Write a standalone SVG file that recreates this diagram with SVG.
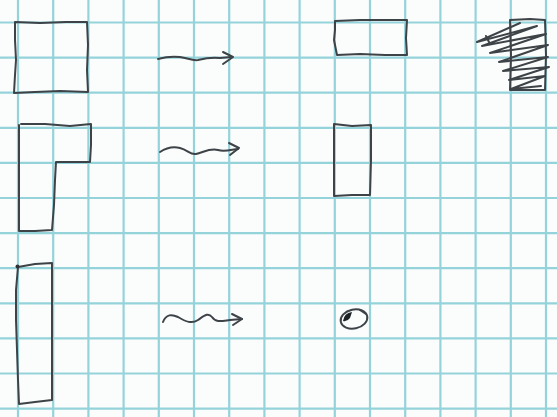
<svg xmlns="http://www.w3.org/2000/svg" width="557" height="417" viewBox="0 0 557 417">
<style>
.grid line{stroke:#95d3db;stroke-width:2.2}
.pen{fill:none;stroke:#3e4347;stroke-width:2;stroke-linecap:round;stroke-linejoin:round}
</style>
<rect width="557" height="417" fill="#fbfdfd"/>
<g class="grid">
<line x1="18" y1="0" x2="18" y2="417"/>
<line x1="53.2" y1="0" x2="53.2" y2="417"/>
<line x1="88.4" y1="0" x2="88.4" y2="417"/>
<line x1="123.6" y1="0" x2="123.6" y2="417"/>
<line x1="158.8" y1="0" x2="158.8" y2="417"/>
<line x1="194" y1="0" x2="194" y2="417"/>
<line x1="229.2" y1="0" x2="229.2" y2="417"/>
<line x1="264.4" y1="0" x2="264.4" y2="417"/>
<line x1="299.6" y1="0" x2="299.6" y2="417"/>
<line x1="334.8" y1="0" x2="334.8" y2="417"/>
<line x1="370" y1="0" x2="370" y2="417"/>
<line x1="405.2" y1="0" x2="405.2" y2="417"/>
<line x1="440.4" y1="0" x2="440.4" y2="417"/>
<line x1="475.6" y1="0" x2="475.6" y2="417"/>
<line x1="510.8" y1="0" x2="510.8" y2="417"/>
<line x1="546" y1="0" x2="546" y2="417"/>
<line x1="0" y1="22.5" x2="557" y2="22.5"/>
<line x1="0" y1="57.6" x2="557" y2="57.6"/>
<line x1="0" y1="92.7" x2="557" y2="92.7"/>
<line x1="0" y1="127.8" x2="557" y2="127.8"/>
<line x1="0" y1="162.9" x2="557" y2="162.9"/>
<line x1="0" y1="198" x2="557" y2="198"/>
<line x1="0" y1="233.1" x2="557" y2="233.1"/>
<line x1="0" y1="268.2" x2="557" y2="268.2"/>
<line x1="0" y1="303.3" x2="557" y2="303.3"/>
<line x1="0" y1="338.4" x2="557" y2="338.4"/>
<line x1="0" y1="373.5" x2="557" y2="373.5"/>
<line x1="0" y1="408.6" x2="557" y2="408.6"/>
</g>
<g id="square">
<path class="pen" d="M15,22 L40,23 L66,22 L87,22 L88,45 L87,70 L88,92 L60,91 L35,92 L14,93 L15,75 L16,60 L15,40 Z"/>
</g>
<g id="l-shape">
<path class="pen" d="M21,124 L45,124 L70,126 L91,124 L91,145 L90,162 L70,162 L56,162 L55,180 L54,205 L52,230 L35,231 L19,231 L19,205 L19,175 L19,150 L19,125"/>
</g>
<g id="tall-rect">
<path class="pen" d="M18,267 L35,264 L52,263 L52,300 L52,340 L52,375 L52,400 L35,402 L19,404 L18,380 L17,350 L16,320 L16,290 Z"/>
<circle cx="17.5" cy="266.5" r="2" fill="#2e3236"/>
</g>
<g id="wide-rect">
<path class="pen" d="M335,21 L360,20 L385,20 L407,20 L406,38 L407,55 L385,55 L360,54 L337,55 L336,50 L334,40 L335,30 Z"/>
</g>
<g id="hatched-square">
<path class="pen" d="M510,20 L530,19 L545,20 L546,55 L545,90 L528,90 L510,90 L511,55 Z"/>
<path class="pen" stroke-width="1.8" d="M520,23 L477,42 L537,26 L482,46 L546,34 L490,53 L548,45 L499,62 L548,57 L503,71 L549,67 L509,80 L545,76 L511,89 L541,86"/>
<path class="pen" stroke-width="1.6" d="M486,36 L489,42"/>
</g>
<g id="tall-small-rect">
<path class="pen" d="M334,124 L352,126 L371,125 L371,160 L370,195 L352,195 L334,196 L334,170 L334,145 Z"/>
</g>
<g id="blob">
<ellipse class="pen" cx="354" cy="319" rx="13.5" ry="9.5" transform="rotate(-12 354 319)"/>
<path d="M343,321 Q344,313 352,312 L350,318 Q347,322 343,321 Z" fill="#1e2225"/>
<path class="pen" d="M360,310 L366,314"/>
</g>
<g id="connectors">
<path class="pen" d="M158,59 C165,57 172,56 180,57 C188,58 192,61 198,60 C206,58 212,57 220,58 L231,57"/>
<path class="pen" d="M223,52 L233,57 L223,64"/>
<path class="pen" d="M160,152 C166,148 172,146 180,148 C188,150 190,155 196,154 C204,152 210,148 218,150 C224,152 230,150 238,149"/>
<path class="pen" d="M229,143 L239,148 L230,155"/>
<path class="pen" d="M163,322 C166,314 172,314 178,317 C186,322 192,324 198,320 C204,316 208,312 212,317 C216,323 222,321 230,320 L242,319"/>
<path class="pen" d="M232,314 L242,319 L233,325"/>
</g>
</svg>
